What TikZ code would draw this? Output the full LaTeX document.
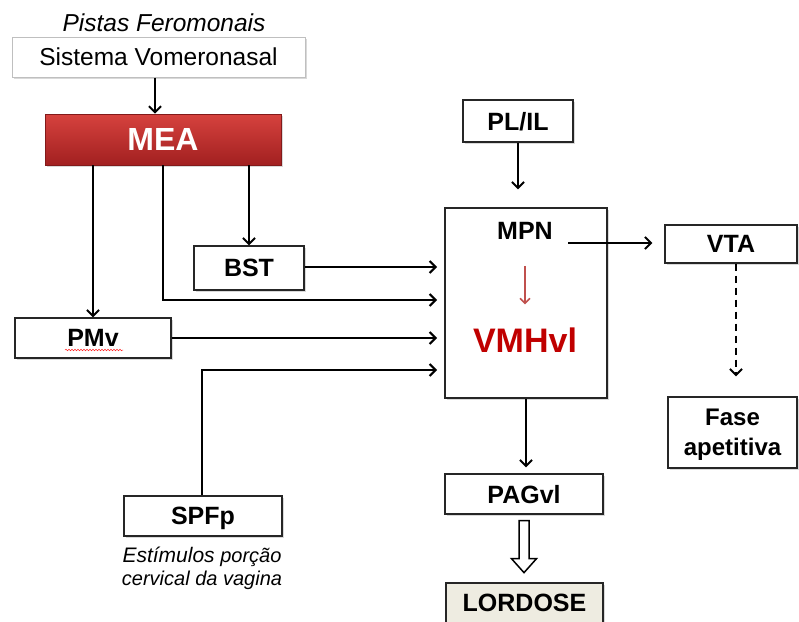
\documentclass[tikz,border=0pt]{standalone}
\usepackage{fontspec}
\setmainfont{Liberation Sans}
\usetikzlibrary{arrows.meta,calc,shadows,decorations.pathmorphing}
\definecolor{meatop}{RGB}{214,66,62}
\definecolor{meabot}{RGB}{162,32,32}
\definecolor{vmhred}{RGB}{192,0,0}
\definecolor{arrred}{RGB}{192,80,77}
\definecolor{lordfill}{RGB}{238,236,225}
\begin{document}
\begin{tikzpicture}[x=1pt,y=-1pt,
  shadowed/.style={drop shadow={opacity=0.3,shadow xshift=1.5pt,shadow yshift=-1.5pt}},
  box/.style={draw=black!85, line width=1.3pt, fill=white, inner sep=0pt, text depth=0pt,
    font=\bfseries\fontsize{25}{30}\selectfont, shadowed},
  arr/.style={line width=1.9pt, -{Straight Barb[length=6pt,width=12pt,line width=2pt]}},
  redarr/.style={draw=arrred, line width=1.5pt, -{Straight Barb[length=5pt,width=10pt,line width=1.6pt]}},
  dasharr/.style={arr, dash pattern=on 7pt off 5pt},
  plain/.style={inner sep=0pt, text depth=0pt},
]
\useasboundingbox (0,0) rectangle (799,621);

% top
\node[plain, font=\itshape\fontsize{24.5}{29}\selectfont] (pistas) at (164,23) {Pistas Feromonais};
\node[draw=black!25, line width=1pt, fill=white, inner sep=0pt, text depth=0pt, shadowed,
      minimum width=293pt, minimum height=40pt, font=\fontsize{24.5}{29}\selectfont]
      (sis) at (158.5,57) {Sistema Vomeronasal};
\node[draw=meabot!80!black, line width=0.8pt, top color=meatop, bottom color=meabot, shadowed,
      inner sep=0pt, text depth=0pt, minimum width=236pt, minimum height=51pt,
      text=white, font=\bfseries\fontsize{32}{38}\selectfont] (mea) at (163,139.5) {MEA};

% left boxes
\node[box, minimum width=110pt, minimum height=44pt] (bst) at (249,268) {BST};
\node[box, minimum width=156pt, minimum height=40pt] (pmv) at (93,338) {PMv};
\node[box, minimum width=158pt, minimum height=40pt] (spfp) at (203,516) {SPFp};
\node[plain, align=center, font=\itshape\fontsize{20}{23}\selectfont] (estim) at (202,566) {{\fontsize{21}{23}\selectfont Estímulos} porção\\cervical da vagina};

% centre
\node[draw=black!85, line width=1.3pt, fill=white, shadowed, minimum width=162pt, minimum height=190pt] (big) at (526,303) {};
\node[plain, font=\bfseries\fontsize{25}{30}\selectfont] (mpn) at (525,231) {MPN};
\node[plain, text=vmhred, font=\bfseries\fontsize{34}{40}\selectfont] (vmh) at (525,340) {VMHvl};
\node[box, minimum width=110pt, minimum height=42pt] (plil) at (518,121) {PL/IL};
\node[box, minimum width=158pt, minimum height=40pt] (pag) at (524,494) {PAGvl};
\node[box, fill=lordfill, minimum width=157pt, minimum height=40pt] (lord) at (524.5,603) {LORDOSE};

% right
\node[box, minimum width=132pt, minimum height=38pt] (vta) at (731,244) {VTA};
\node[box, align=center, minimum width=129pt, minimum height=71pt, font=\bfseries\fontsize{24}{30}\selectfont] (fase) at (732.5,432.5) {Fase\\apetitiva};

% input coordinates on the big box
\coordinate (in1) at (437,267);
\coordinate (in2) at (437,300);
\coordinate (in3) at (437,338);
\coordinate (in4) at (437,370);
\coordinate (mpnout) at (568,243);

% connectors
\draw[arr] ([xshift=-3.5pt]sis.south) -- ([xshift=-3.5pt]sis.south |- mea.north);
\draw[arr] (pmv.north |- mea.south) -- (pmv.north);
\draw[arr] (bst.north |- mea.south) -- (bst.north);
\draw[arr] (mea.south) |- (in2);
\draw[arr] (bst.east |- in1) -- (in1);
\draw[arr] (pmv.east) -- (in3);
\draw[arr] ([xshift=-1pt]spfp.north) |- (in4);
\draw[arr] (plil.south) -- ([yshift=18pt]plil.south |- big.north);
\draw[redarr, shorten <=26pt, shorten >=23pt] (mpn) -- (vmh);
\draw[arr] (mpnout) -- ([xshift=-12pt]vta.west |- mpnout);
\draw[dasharr] ([xshift=5pt]vta.south) -- ([xshift=5pt,yshift=20pt]vta.south |- fase.north);
\draw[arr] (big.south) -- ([yshift=6pt]big.south |- pag.north);

% hollow arrow
\draw[line width=1.5pt, fill=white, line join=miter]
  ($(pag.south)+(-5,6)$) -- ($(pag.south)+(5,6)$) -- ($(pag.south)+(5,44)$) --
  ($(pag.south)+(12.5,44)$) -- ($(pag.south)+(0,58)$) -- ($(pag.south)+(-12.5,44)$) --
  ($(pag.south)+(-5,44)$) -- cycle;

% spell-check squiggle under PMv
\draw[red!85, line width=0.5pt, decorate, decoration={snake, amplitude=0.8pt, segment length=3pt}]
  ($(pmv.center)+(-28,12)$) -- ($(pmv.center)+(30,12)$);
\end{tikzpicture}
\end{document}
